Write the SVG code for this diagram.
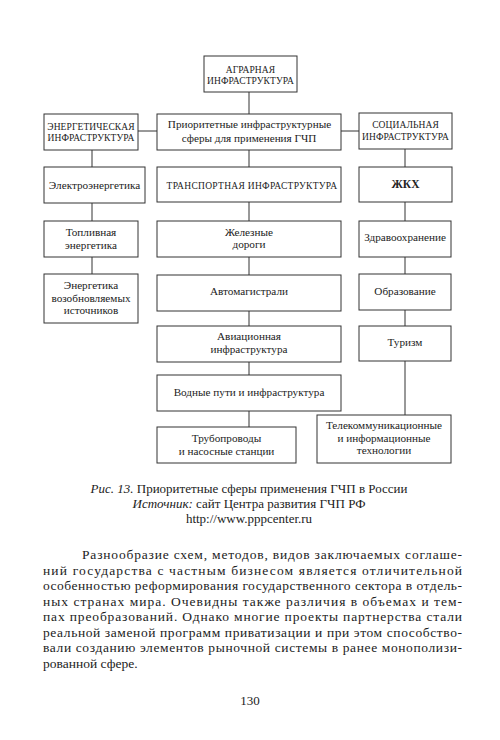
<svg xmlns="http://www.w3.org/2000/svg" width="500" height="740" viewBox="0 0 500 740">
<style>
.box{fill:#fff;stroke:#333;stroke-width:1}
.t{font-family:"Liberation Serif","DejaVu Serif",serif;font-size:11.2px;fill:#222;text-anchor:middle}
.cap{font-family:"Liberation Serif","DejaVu Serif",serif;font-size:9.5px;fill:#222;text-anchor:middle;letter-spacing:0.1px}
.con{stroke:#333;stroke-width:1;fill:none}
.c{font-family:"Liberation Serif","DejaVu Serif",serif;font-size:13px;fill:#222;text-anchor:middle}
.b{font-family:"Liberation Serif","DejaVu Serif",serif;font-size:13.5px;fill:#222}
</style>
<rect width="500" height="740" fill="#fff"/>
<g id="connectors">
<line class="con" x1="249" y1="92" x2="249" y2="114"/>
<line class="con" x1="138" y1="131" x2="157" y2="131"/>
<line class="con" x1="341" y1="131" x2="359" y2="131"/>
<line class="con" x1="249" y1="150" x2="249" y2="167"/>
<line class="con" x1="92" y1="150" x2="92" y2="167"/>
<line class="con" x1="92" y1="203" x2="92" y2="221"/>
<line class="con" x1="92" y1="257" x2="92" y2="274"/>
<line class="con" x1="249" y1="202" x2="249" y2="221"/>
<line class="con" x1="249" y1="257" x2="249" y2="275"/>
<line class="con" x1="249" y1="311" x2="249" y2="326"/>
<line class="con" x1="249" y1="362" x2="249" y2="375"/>
<line class="con" x1="249" y1="411" x2="249" y2="427"/>
<line class="con" x1="405" y1="149" x2="405" y2="167"/>
<line class="con" x1="405" y1="202" x2="405" y2="221"/>
<line class="con" x1="405" y1="257" x2="405" y2="274"/>
<line class="con" x1="405" y1="310" x2="405" y2="326"/>
<line class="con" x1="405" y1="361" x2="405" y2="415"/>
</g>
<g id="agrarian"><rect class="box" x="204" y="56" width="93" height="36"/><text class="cap" x="250.5" y="72.5">АГРАРНАЯ</text><text class="cap" x="250.5" y="84">ИНФРАСТРУКТУРА</text></g>
<g id="energy"><rect class="box" x="44" y="114" width="94" height="36"/><text class="cap" x="91" y="129.5">ЭНЕРГЕТИЧЕСКАЯ</text><text class="cap" x="91" y="141">ИНФРАСТРУКТУРА</text></g>
<g id="priority"><rect class="box" x="157" y="114" width="184" height="36"/><text class="t" x="249.5" y="128">Приоритетные инфраструктурные</text><text class="t" x="249" y="142">сферы для применения ГЧП</text></g>
<g id="social"><rect class="box" x="359" y="113" width="93" height="36"/><text class="cap" x="405.5" y="128">СОЦИАЛЬНАЯ</text><text class="cap" x="405.5" y="139.5">ИНФРАСТРУКТУРА</text></g>
<g id="electro"><rect class="box" x="44" y="167" width="101" height="36"/><text class="t" x="94.5" y="189">Электроэнергетика</text></g>
<g id="transport"><rect class="box" x="157" y="167" width="184" height="35"/><text class="cap" x="252" y="189" style="letter-spacing:0.3px">ТРАНСПОРТНАЯ ИНФРАСТРУКТУРА</text></g>
<g id="zhkh"><rect class="box" x="359" y="167" width="93" height="35"/><text class="t" x="405.5" y="188" font-weight="bold" style="font-size:11.5px">ЖКХ</text></g>
<g id="fuel"><rect class="box" x="44" y="221" width="94" height="36"/><text class="t" x="91" y="236">Топливная</text><text class="t" x="91" y="248.5">энергетика</text></g>
<g id="renew"><rect class="box" x="44" y="274" width="94" height="49"/><text class="t" x="91" y="289">Энергетика</text><text class="t" x="91" y="301.5">возобновляемых</text><text class="t" x="91" y="314">источников</text></g>
<g id="rail"><rect class="box" x="157" y="221" width="184" height="36"/><text class="t" x="249" y="235.5">Железные</text><text class="t" x="249" y="248">дороги</text></g>
<g id="roads"><rect class="box" x="157" y="275" width="184" height="36"/><text class="t" x="249" y="295">Автомагистрали</text></g>
<g id="avia"><rect class="box" x="157" y="326" width="184" height="36"/><text class="t" x="249" y="340">Авиационная</text><text class="t" x="249" y="353">инфраструктура</text></g>
<g id="water"><rect class="box" x="157" y="375" width="184" height="36"/><text class="t" x="249" y="396">Водные пути и инфраструктура</text></g>
<g id="pipes"><rect class="box" x="157" y="427" width="139" height="36"/><text class="t" x="226.5" y="442">Трубопроводы</text><text class="t" x="226.5" y="455">и насосные станции</text></g>
<g id="health"><rect class="box" x="359" y="221" width="92" height="36"/><text class="t" x="405" y="241">Здравоохранение</text></g>
<g id="edu"><rect class="box" x="359" y="274" width="92" height="36"/><text class="t" x="405" y="295">Образование</text></g>
<g id="tourism"><rect class="box" x="359" y="326" width="92" height="35"/><text class="t" x="405" y="346">Туризм</text></g>
<g id="telecom"><rect class="box" x="317" y="415" width="134" height="48"/><text class="t" x="384" y="429">Телекоммуникационные</text><text class="t" x="384" y="441.5">и информационные</text><text class="t" x="384" y="454">технологии</text></g>
<g id="caption">
<text class="c" x="249" y="493"><tspan font-style="italic">Рис. 13.</tspan> Приоритетные сферы применения ГЧП в России</text>
<text class="c" x="249" y="508"><tspan font-style="italic">Источник:</tspan> сайт Центра развития ГЧП РФ</text>
<text class="c" x="249" y="523">http://www.pppcenter.ru</text>
</g>
<g id="body">
<text class="b" x="82" y="559" textLength="380" lengthAdjust="spacing">Разнообразие схем, методов, видов заключаемых соглаше-</text>
<text class="b" x="43" y="574.5" textLength="419" lengthAdjust="spacing">ний государства с частным бизнесом является отличительной</text>
<text class="b" x="43" y="590" textLength="419" lengthAdjust="spacing">особенностью реформирования государственного сектора в отдель-</text>
<text class="b" x="43" y="605.5" textLength="419" lengthAdjust="spacing">ных странах мира. Очевидны также различия в объемах и тем-</text>
<text class="b" x="43" y="621" textLength="419" lengthAdjust="spacing">пах преобразований. Однако многие проекты партнерства стали</text>
<text class="b" x="43" y="636.5" textLength="419" lengthAdjust="spacing">реальной заменой программ приватизации и при этом способство-</text>
<text class="b" x="43" y="652" textLength="419" lengthAdjust="spacing">вали созданию элементов рыночной системы в ранее монополизи-</text>
<text class="b" x="43" y="667.5">рованной сфере.</text>
<text class="c" x="250" y="705">130</text>
</g>
</svg>
